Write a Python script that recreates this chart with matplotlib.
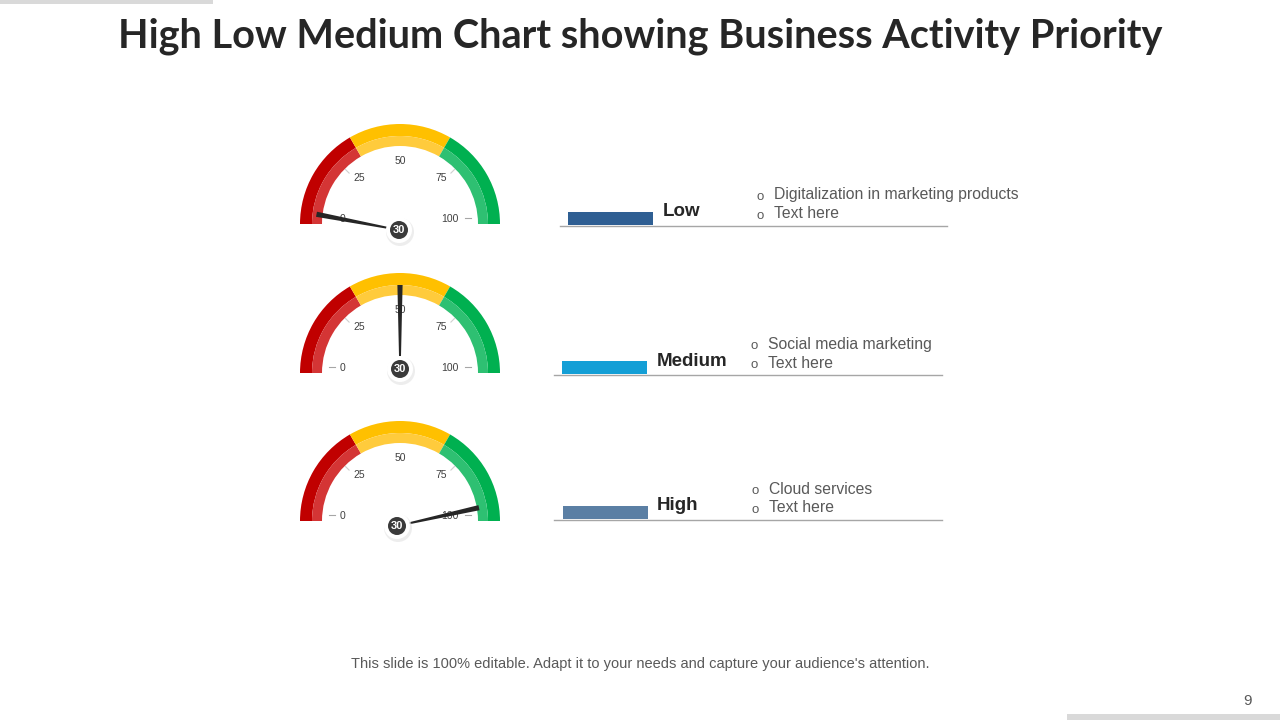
import numpy as np
import matplotlib
matplotlib.use("Agg")
import matplotlib.pyplot as plt
import matplotlib.patches as patches

# data
priorities = ["Low", "Medium", "High"]
needle_values = [6, 50, 93]
badge_labels = ["30", "30", "30"]
tick_values = [0, 25, 50, 75, 100]
bullet_lines = [
    ["Digitalization in marketing products", "Text here"],
    ["Social media marketing", "Text here"],
    ["Cloud services", "Text here"],
]
bar_colors = ["#2F5F93", "#149FD6", "#5B7FA4"]
# gauge segments: (start value, end value, outer colour, inner colour)
segments = [
    (0, 33.3, "#C00000", "#D43535"),
    (33.3, 66.7, "#FFC000", "#FFCB3C"),
    (66.7, 100, "#00B050", "#2EC072"),
]

title = "High Low Medium Chart showing Business Activity Priority"
footer = "This slide is 100% editable. Adapt it to your needs and capture your audience's attention."

# layout (pixel positions, y measured from top of slide)
gauge_cx = 400
gauge_base_y = [224, 373, 521]
badge_off = [(-1, 6), (0, -4), (-3, 5)]
row_y = [226, 375, 520]
bar_x = [568, 562, 563]
line_x = [(560, 947), (554, 942), (554, 942)]
label_x = [663, 657, 657]
bullet_x = [760, 754, 755]

R_OUT, R_MID, R_IN = 100, 88, 78

fig = plt.figure(figsize=(12.8, 7.2), dpi=100)
ax = fig.add_axes([0, 0, 1, 1])
ax.set_xlim(0, 1280)
ax.set_ylim(0, 720)
ax.axis("off")


def Y(y):
    return 720 - y


def ang(v):
    return np.deg2rad(180 - 1.8 * v)


# slide decorations
ax.add_patch(patches.Rectangle((0, Y(4)), 213, 4, color="#D9D9D9", lw=0))
ax.add_patch(patches.Rectangle((1067, 0), 213, 6, color="#D9D9D9", lw=0))
ax.text(640, Y(36), title, ha="center", va="center", fontsize=28.5,
        fontweight="bold", family="Lato", color="#262626")
ax.text(640, Y(664), footer, ha="center", va="center", fontsize=10.5,
        family="Liberation Sans", color="#595959")
ax.text(1248, Y(701), "9", ha="center", va="center", fontsize=11,
        family="Liberation Sans", color="#595959")

for i, name in enumerate(priorities):
    cx, cy = gauge_cx, Y(gauge_base_y[i])

    # coloured arc
    for v0, v1, c_out, c_in in segments:
        t0, t1 = 180 - 1.8 * v1, 180 - 1.8 * v0
        ax.add_patch(patches.Wedge((cx, cy), R_OUT, t0, t1, width=R_OUT - R_MID,
                                   color=c_out, lw=0))
        ax.add_patch(patches.Wedge((cx, cy), R_MID, t0, t1, width=R_MID - R_IN,
                                   color=c_in, lw=0))

    # ticks and tick labels
    for v in tick_values:
        a = ang(v)
        if v in (0, 100):
            ty = cy + 6
            tx = cx + np.cos(a) * 68
            ax.plot([tx - 3, tx + 3], [ty, ty], color="#A6A6A6", lw=0.8)
        elif v != 50:
            ax.plot([cx + np.cos(a) * 72, cx + np.cos(a) * 77],
                    [cy + np.sin(a) * 72, cy + np.sin(a) * 77],
                    color="#CFCFCF", lw=0.8)
        lx = cx + np.cos(a) * 58
        ly = cy + np.sin(a) * 58 + 5
        if v == 100:
            lx -= 8
        ax.text(lx, ly, str(v), ha="center", va="center", fontsize=7.5,
                family="Liberation Sans", color="#404040")

    # needle
    bx, by = cx + badge_off[i][0], cy - badge_off[i][1]
    a = ang(needle_values[i])
    d = np.array([np.cos(a), np.sin(a)])
    p = np.array([-d[1], d[0]])
    base = np.array([bx, by])
    tip = base + d * 84
    pts = [base + p * 0.7, tip + p * 2.6, tip - p * 2.6, base - p * 0.7]
    ax.add_patch(patches.Polygon(pts, closed=True, color="#262626", lw=0, zorder=4))

    # value badge
    ax.add_patch(patches.Circle((bx + 1, by - 2), 14, color="#E6E6E6", lw=0, zorder=5, alpha=0.7))
    ax.add_patch(patches.Circle((bx, by), 13, color="white", lw=0, zorder=5))
    ax.add_patch(patches.Circle((bx, by), 9, color="#3A3A3A", lw=0, zorder=6))
    ax.text(bx, by, badge_labels[i], ha="center", va="center", fontsize=8,
            fontweight="bold", family="Liberation Sans", color="white", zorder=7)

    # right side row
    ry = Y(row_y[i])
    ax.add_patch(patches.Rectangle((bar_x[i], ry + 1), 85, 13, color=bar_colors[i], lw=0))
    ax.plot(line_x[i], [ry, ry], color="#A6A6A6", lw=1)
    ax.text(label_x[i], ry + 14, name, ha="left", va="center", fontsize=13.5,
            fontweight="bold", family="Liberation Sans", color="#262626")
    for k, line in enumerate(bullet_lines[i]):
        yy = ry + 31 - k * 19
        ax.text(bullet_x[i], yy - 2, "o", ha="center", va="center", fontsize=9.5,
                family="Liberation Sans", color="#595959")
        ax.text(bullet_x[i] + 14, yy, line, ha="left", va="center", fontsize=11.3,
                family="Liberation Sans", color="#595959")

fig.savefig("out.png", dpi=100)
